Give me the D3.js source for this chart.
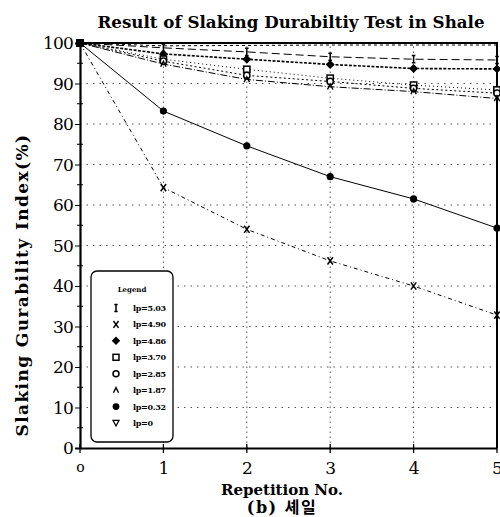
<!DOCTYPE html>
<html>
<head>
<meta charset="utf-8">
<script src="https://cdn.jsdelivr.net/npm/d3@7"></script>
<style>
  body { margin: 0; background: #fff; }
  svg { display: block; }
</style>
</head>
<body>
<div id="chart"></div>
<script>
const width = 500;
const height = 517;

// data
const reps = [0, 1, 2, 3, 4, 5];
const lp503 = [100, 98.8, 97.8, 96.6, 96.0, 95.8];
const lp490 = [100, 64.3, 54.0, 46.2, 40.0, 32.8];
const lp486 = [100, 97.3, 96.0, 94.7, 93.7, 93.6];
const lp370 = [100, 96.0, 93.5, 91.3, 89.6, 88.4];
const lp285 = [100, 95.5, 92.0, 90.5, 88.8, 87.6];
const lp187 = [100, 94.8, 91.0, 89.2, 88.0, 86.3];
const lp032 = [100, 83.2, 74.6, 67.0, 61.5, 54.3];
const lp0 = [100, 99.3, 99.4, 99.5, 99.5, 99.5];
const legendLabels = ["lp=5.03", "lp=4.90", "lp=4.86", "lp=3.70", "lp=2.85", "lp=1.87", "lp=0.32", "lp=0"];
const yTicks = [0, 10, 20, 30, 40, 50, 60, 70, 80, 90, 100];
const xTicks = [0, 1, 2, 3, 4, 5];

const series = [
  {label: legendLabels[0], values: lp503, dash: "8,4", sw: 1, mark: "bar"},
  {label: legendLabels[1], values: lp490, dash: "4,3,1,3", sw: 1, mark: "x"},
  {label: legendLabels[2], values: lp486, dash: "3,1.5", sw: 1.6, mark: "diamond"},
  {label: legendLabels[3], values: lp370, dash: "1,3", sw: 1, mark: "square"},
  {label: legendLabels[4], values: lp285, dash: "2,2.5", sw: 1, mark: "circle"},
  {label: legendLabels[5], values: lp187, dash: "7,2,1,2", sw: 1, mark: "caret"},
  {label: legendLabels[6], values: lp032, dash: null, sw: 1, mark: "dot"},
  {label: legendLabels[7], values: lp0, dash: "3,3", sw: 1, mark: "tri"}
];

const x = d3.scaleLinear().domain([0, 5]).range([80, 497]);
const y = d3.scaleLinear().domain([0, 100]).range([448, 43]);

const svg = d3.select("#chart").append("svg")
    .attr("width", width)
    .attr("height", height);

const serif = "'DejaVu Serif', 'Liberation Serif', serif";

// title
svg.append("text")
    .attr("x", 291)
    .attr("y", 28)
    .attr("text-anchor", "middle")
    .attr("font-family", serif)
    .attr("font-weight", "bold")
    .attr("font-size", 16.7)
    .text("Result of Slaking Durabiltiy Test in Shale");

// grid (dotted)
svg.append("g")
    .selectAll("line")
    .data(yTicks.slice(1, -1))
    .join("line")
    .attr("x1", x(0)).attr("x2", x(5))
    .attr("y1", d => y(d)).attr("y2", d => y(d))
    .attr("stroke", "#555")
    .attr("stroke-width", 1)
    .attr("stroke-dasharray", "1.5,5");

svg.append("g")
    .selectAll("line")
    .data(xTicks.slice(1, -1))
    .join("line")
    .attr("x1", d => x(d)).attr("x2", d => x(d))
    .attr("y1", y(0)).attr("y2", y(100))
    .attr("stroke", "#555")
    .attr("stroke-width", 1)
    .attr("stroke-dasharray", "1.5,3.5");

// frame top and right
svg.append("path")
    .attr("d", `M${x(0)},${y(100)}H${x(5)}V${y(0)}`)
    .attr("fill", "none")
    .attr("stroke", "#000")
    .attr("stroke-width", 2);

// axes
const yAxis = svg.append("g")
    .attr("transform", `translate(${x(0)},0)`)
    .call(d3.axisLeft(y).tickValues(yTicks).tickSize(5).tickPadding(2));
yAxis.select(".domain").attr("stroke-width", 2.2);
yAxis.selectAll("text")
    .attr("font-family", serif)
    .attr("font-size", 17)
    .attr("letter-spacing", -0.8)
    .attr("dy", "0.35em");

// minor y ticks
svg.append("g")
    .selectAll("line")
    .data(d3.range(5, 100, 10))
    .join("line")
    .attr("x1", x(0) - 3).attr("x2", x(0) + 3)
    .attr("y1", d => y(d)).attr("y2", d => y(d))
    .attr("stroke", "#000");

const xAxis = svg.append("g")
    .attr("transform", `translate(0,${y(0)})`)
    .call(d3.axisBottom(x).tickValues(xTicks).tickSize(0).tickPadding(14)
        .tickFormat(d => d === 0 ? "o" : d));
xAxis.select(".domain").attr("stroke-width", 1.8);
xAxis.selectAll("text")
    .attr("font-family", serif)
    .attr("font-size", d => d === 0 ? 14 : 17);

// x ticks pointing both ways
svg.append("g")
    .selectAll("line")
    .data(xTicks)
    .join("line")
    .attr("x1", d => x(d)).attr("x2", d => x(d))
    .attr("y1", y(0) - 4).attr("y2", y(0) + 5)
    .attr("stroke", "#000")
    .attr("stroke-width", 1.3);

// axis titles
svg.append("text")
    .attr("transform", "translate(28,285) rotate(-90)")
    .attr("text-anchor", "middle")
    .attr("font-family", serif)
    .attr("font-weight", "bold")
    .attr("font-size", 17)
    .attr("letter-spacing", 1.4)
    .text("Slaking Gurability Index(%)");

svg.append("text")
    .attr("x", 282)
    .attr("y", 495)
    .attr("text-anchor", "middle")
    .attr("font-family", serif)
    .attr("font-weight", "bold")
    .attr("font-size", 15)
    .text("Repetition No.");

svg.append("text")
    .attr("x", 282)
    .attr("y", 513)
    .attr("text-anchor", "middle")
    .attr("font-family", serif + ", 'Noto Sans CJK KR'")
    .attr("font-weight", "bold")
    .attr("font-size", 16)
    .attr("letter-spacing", 1.5)
    .text("(b) 셰일");

// marker drawing
function drawMark(g, type, cx, cy, s) {
  if (type === "dot") {
    g.append("circle").attr("cx", cx).attr("cy", cy).attr("r", 4 * s).attr("fill", "#000");
  } else if (type === "circle") {
    g.append("circle").attr("cx", cx).attr("cy", cy).attr("r", 3.5 * s)
        .attr("fill", "#fff").attr("stroke", "#000").attr("stroke-width", 1.5);
  } else if (type === "square") {
    g.append("rect").attr("x", cx - 3.5 * s).attr("y", cy - 3.5 * s)
        .attr("width", 7 * s).attr("height", 7 * s)
        .attr("fill", "#fff").attr("stroke", "#000").attr("stroke-width", 1.5);
  } else if (type === "diamond") {
    g.append("path")
        .attr("d", `M${cx},${cy - 4 * s}L${cx + 4 * s},${cy}L${cx},${cy + 4 * s}L${cx - 4 * s},${cy}Z`
            + `M${cx - 4 * s},${cy}H${cx + 4 * s}M${cx},${cy - 4 * s}V${cy + 4 * s}`)
        .attr("fill", "#000").attr("stroke", "#000").attr("stroke-width", 1.2);
  } else if (type === "x") {
    g.append("path")
        .attr("d", `M${cx - 3 * s},${cy - 4 * s}L${cx + 3 * s},${cy + 4 * s}M${cx + 3 * s},${cy - 4 * s}L${cx - 3 * s},${cy + 4 * s}`)
        .attr("fill", "none").attr("stroke", "#000").attr("stroke-width", 1.5);
  } else if (type === "bar") {
    g.append("path")
        .attr("d", `M${cx},${cy - 4 * s}V${cy + 4 * s}M${cx - 2 * s},${cy - 4 * s}H${cx + 2 * s}M${cx - 2 * s},${cy + 4 * s}H${cx + 2 * s}`)
        .attr("fill", "none").attr("stroke", "#000").attr("stroke-width", 1.5);
  } else if (type === "caret") {
    g.append("path")
        .attr("d", `M${cx - 3 * s},${cy + 3 * s}L${cx},${cy - 3 * s}L${cx + 3 * s},${cy + 3 * s}`)
        .attr("fill", "none").attr("stroke", "#000").attr("stroke-width", 1.4);
  } else if (type === "tri") {
    g.append("path")
        .attr("d", `M${cx - 3.5 * s},${cy - 3 * s}H${cx + 3.5 * s}L${cx},${cy + 3.5 * s}Z`)
        .attr("fill", "#fff").attr("stroke", "#000").attr("stroke-width", 1.3);
  }
}

// lines
const line = d3.line()
    .x((d, i) => x(reps[i]))
    .y(d => y(d));

const plot = svg.append("g");
series.forEach(s => {
  plot.append("path")
      .datum(s.values)
      .attr("d", line)
      .attr("fill", "none")
      .attr("stroke", "#000")
      .attr("stroke-width", s.sw)
      .attr("stroke-dasharray", s.dash);
});
series.forEach(s => {
  if (s.mark === "tri") return;
  const g = plot.append("g");
  s.values.forEach((v, i) => {
    if (i === 0) return;
    drawMark(g, s.mark, x(reps[i]), y(v), 0.9);
  });
});
// start marker at (0,100)
plot.append("rect")
    .attr("x", x(0) - 4).attr("y", y(100) - 4)
    .attr("width", 8).attr("height", 8)
    .attr("fill", "#000");

// legend
const lg = svg.append("g");
lg.append("rect")
    .attr("x", 91).attr("y", 271)
    .attr("width", 82).attr("height", 171)
    .attr("rx", 6)
    .attr("fill", "#fff")
    .attr("stroke", "#000")
    .attr("stroke-width", 1.3);
lg.append("text")
    .attr("x", 132).attr("y", 292)
    .attr("text-anchor", "middle")
    .attr("font-family", serif)
    .attr("font-weight", "bold")
    .attr("font-size", 7)
    .text("Legend");

const legY = d3.scaleLinear().domain([0, 7]).range([308, 423]);
series.forEach((s, i) => {
  const cy = legY(i);
  drawMark(lg, s.mark, 116, cy, 0.85);
  lg.append("text")
      .attr("x", 133).attr("y", cy + 3)
      .attr("font-family", serif)
      .attr("font-weight", "bold")
      .attr("font-size", 8)
      .attr("letter-spacing", -0.3)
      .text(s.label);
});
</script>
</body>
</html>
